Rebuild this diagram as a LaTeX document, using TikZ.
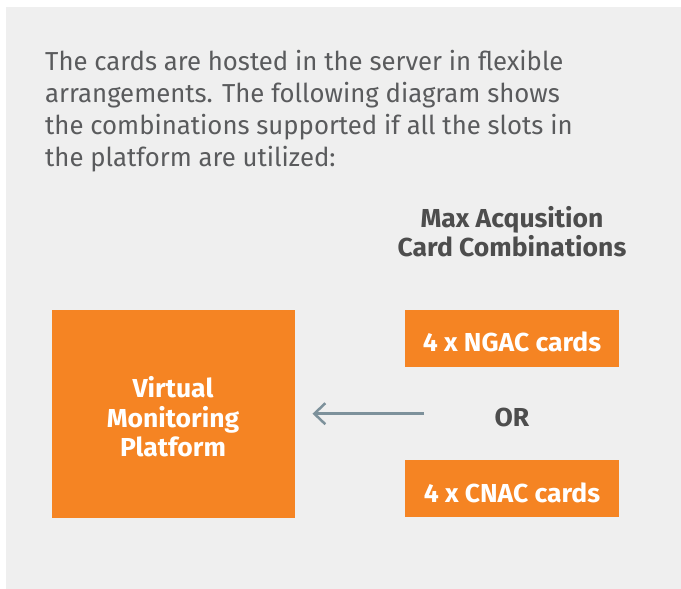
\documentclass[tikz,border=0pt]{standalone}
\usepackage{fontspec}
\setmainfont[FakeStretch=0.99, BoldFeatures={FakeStretch=1.02}]{Fira Sans}
\usetikzlibrary{arrows.meta}
\definecolor{bggray}{HTML}{EFEFEF}
\definecolor{orangebox}{HTML}{F58423}
\definecolor{bodytext}{HTML}{5A5B5D}
\definecolor{headtext}{HTML}{4D4D4D}
\definecolor{arrowgray}{HTML}{7D919B}
\tikzset{
  bodyline/.style={anchor=base west, inner sep=0pt, text=bodytext, font=\fontsize{26}{32}\selectfont},
  headline/.style={anchor=base, inner sep=0pt, text=headtext, font=\fontsize{26}{30}\selectfont\bfseries},
  cardbox/.style={fill=orangebox, draw=none, inner sep=0pt, anchor=north west},
  boxtext/.style={anchor=base, inner sep=0pt, text=white, font=\fontsize{26}{30}\selectfont\bfseries},
  linkarrow/.style={draw=arrowgray, line width=2.5pt, -{Straight Barb[length=11pt,width=21pt,line width=2.5pt]}}
}
\begin{document}
\begin{tikzpicture}[x=1pt,y=-1pt]
\useasboundingbox (0,0) rectangle (681,589);
\fill[white] (0,0) rectangle (681,589);
\fill[bggray] (6,7) rectangle (681,589);
% intro text
\node[bodyline] (l1) at (45,70.7) {The cards are hosted in the server in flexible};
\node[bodyline] (l2) at (45,102.7) {arrangements. The following diagram shows};
\node[bodyline] (l3) at (45,134.5) {the combinations supported if all the slots in};
\node[bodyline] (l4) at (45,166.5) {the platform are utilized:};
% heading
\node[headline] (h1) at (512,227) {Max Acqusition};
\node[headline] (h2) at (512,256) {Card Combinations};
% boxes
\node[cardbox, minimum width=243pt, minimum height=207.5pt] (vmp) at (52,310) {};
\node[boxtext] (vmp1) at (173,397.7) {Virtual};
\node[boxtext] (vmp2) at (173,427.7) {Monitoring};
\node[boxtext] (vmp3) at (173,456.7) {Platform};
\node[cardbox, minimum width=214pt, minimum height=56.5pt] (ngac) at (405,310) {};
\node[boxtext] (ngact) at (512,351.7) {4 x NGAC cards};
\node[headline] (or) at (512,426) {OR};
\node[cardbox, minimum width=214pt, minimum height=56.7pt] (cnac) at (405,460) {};
\node[boxtext] (cnact) at (512,502) {4 x CNAC cards};
% arrow
\coordinate (astart) at (424,413.7);
\coordinate (aend) at (312.5,413.7);
\draw[linkarrow] (astart) -- (aend);
\end{tikzpicture}
\end{document}
